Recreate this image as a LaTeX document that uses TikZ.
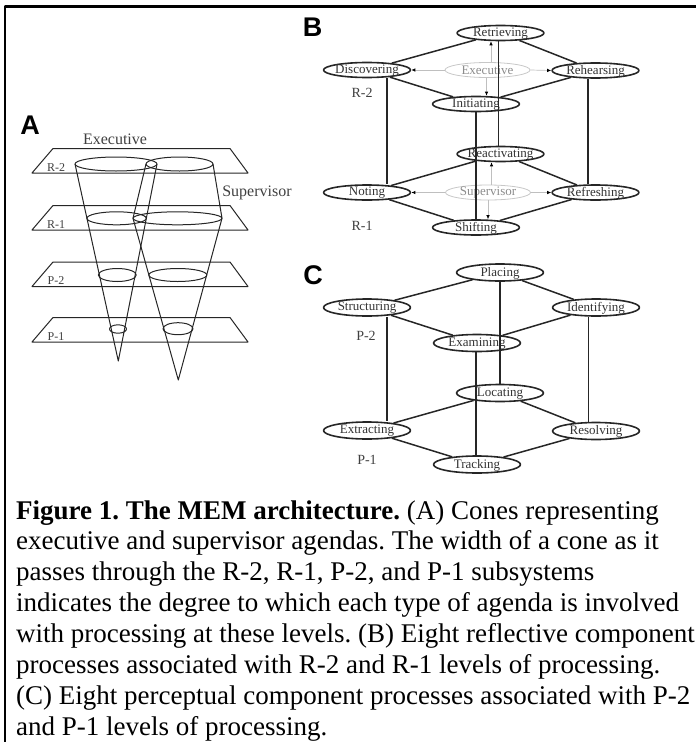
\documentclass[tikz,border=0pt]{standalone}
\usepackage{fontspec}
\setmainfont{Liberation Serif}
\setsansfont{Liberation Sans}
\usetikzlibrary{shapes.geometric}
\usetikzlibrary{arrows.meta}

\begin{document}
\begin{tikzpicture}[x=1pt, y=-1pt, line join=round,
    every node/.style={inner sep=0pt},
    panel/.style={font=\fontsize{27}{27}\selectfont\sffamily\bfseries},
    tier/.style={font=\fontsize{12}{12}\selectfont, text=black!75},
    subtier/.style={font=\fontsize{14}{14}\selectfont, text=black!75},
    agenda/.style={font=\fontsize{16}{16}\selectfont, text=black!75},
    proc/.style={ellipse, draw=black!85, line width=1.6pt, minimum width=87pt, minimum height=15pt,
      label={[font=\fontsize{13}{13}\selectfont, text=black!80, yshift=-0.5pt]center:#1}},
    tall/.style={minimum height=17pt},
    ghost/.style={ellipse, draw=black!22, line width=0.8pt, minimum width=85pt, minimum height=15pt,
      label={[font=\fontsize{13}{13}\selectfont, text=black!45, yshift=-0.5pt]center:#1}},
    link/.style={draw=black!85, line width=1.5pt},
    pass/.style={draw=black!25, line width=0.7pt, -{Latex[length=4pt, width=3.5pt, color=black]}},
    cone/.style={draw=black!85, line width=1pt},
    capline/.style={anchor=base west, font=\fontsize{27}{31}\selectfont\frenchspacing}]
  \useasboundingbox (0,0) rectangle (696,742);
  \draw[line width=2.2pt] (696,6.5) -- (5,6.5) -- (5,742);

  % A
  \node[panel] (A) at (30,125) {A};
  \foreach \name/\t in {R-2/148.5, R-1/205.5, P-2/262, P-1/317.5} {
    \draw[cone] (53,\t) -- (230,\t) -- (248,\t+24.5) -- (32,\t+24.5) -- cycle;
    \node[tier] at (56,\t+19) {\name};
  }
  \foreach \x/\y/\rx/\ry in {116/164/41/7, 116.6/218.3/29.7/6.5, 117.3/275/19/6.5, 118/329/8.5/4.2,
      179.5/164/33.5/7, 177.5/218.3/44.5/6.5, 177.8/275/29/6.5, 178/328.7/15/6}
    \draw[cone] (\x,\y) ellipse [x radius=\rx, y radius=\ry];
  \draw[cone] (75,164) -- (118.3,361) -- (157,164);
  \draw[cone] (146,164) -- (133,218.3) -- (178.3,380) -- (222,218.3) -- (213,164);
  \node[agenda] (exectag) at (115,139) {Executive};
  \node[agenda] (suptag) at (257,193) {Supervisor};

  % B
  \node[panel] (B) at (312.5,27) {B};
  \node[proc=Retrieving] (retr) at (500.5,33) {};
  \node[proc=Discovering] (disc) at (367,70) {};
  \node[ghost=Executive] (exec) at (487.5,70) {};
  \node[proc=Rehearsing] (rehe) at (595.5,70.5) {};
  \node[proc=Initiating] (init) at (476,104) {};
  \node[proc=Reactivating] (react) at (500.5,154) {};
  \node[proc=Noting] (note) at (367,192.5) {};
  \node[ghost=Supervisor] (sup) at (488,192.5) {};
  \node[proc=Refreshing] (refr) at (595.5,192.5) {};
  \node[proc=Shifting] (shif) at (476,227.5) {};
  \node[subtier] (rtwo) at (362,93) {R-2};
  \node[subtier] (rone) at (362,226) {R-1};
  \path[link] (retr) edge (disc) edge (rehe)
    (init) edge (disc) edge (rehe)
    (react) edge (note) edge (refr)
    (shif) edge (note) edge (refr);
  \draw[link] ([xshift=20]disc.south) -- ([xshift=20]note.north);
  \draw[link] ([xshift=-7.5]rehe.south) -- ([xshift=-7.5]refr.north);
  \draw[link] ([xshift=-2]retr.south) -- ([xshift=-2]react.north);
  \draw[link] (init.south) -- (shif.north);
  \draw[pass] ([xshift=3.5]exec.north) -- ([xshift=-9.5]retr.south);
  \draw[pass] (exec.west) -- (disc.east);
  \draw[pass] (exec.east) -- (rehe.west);
  \draw[pass] ([xshift=-1]exec.south) -- ([xshift=10.5]init.north);
  \draw[pass] ([xshift=3.5]sup.north) -- ([xshift=-9]react.south);
  \draw[pass] (sup.west) -- (note.east);
  \draw[pass] (sup.east) -- (refr.west);
  \draw[pass] (sup.south) -- ([xshift=12]shif.north);

  % C
  \node[panel] (C) at (313,275) {C};
  \node[proc=Placing, tall] (plac) at (500,272.5) {};
  \node[proc=Structuring, tall] (stru) at (367,307.5) {};
  \node[proc=Identifying, tall] (iden) at (596,307.5) {};
  \node[proc=Examining, tall] (exam) at (477,343) {};
  \node[proc=Locating, tall] (loca) at (500,393) {};
  \node[proc=Extracting, tall] (extr) at (367,430.5) {};
  \node[proc=Resolving, tall] (reso) at (596,431) {};
  \node[proc=Tracking, tall] (trac) at (477,464.5) {};
  \node[subtier] (ptwo) at (366,336) {P-2};
  \node[subtier] (pone) at (367,460) {P-1};
  \path[link] (plac) edge (stru) edge (iden)
    (exam) edge (stru) edge (iden)
    (loca) edge (extr) edge (reso)
    (trac) edge (extr) edge (reso);
  \draw[link] ([xshift=20]stru.south) -- ([xshift=20]extr.north);
  \draw[link] ([xshift=-7.5]iden.south) -- ([xshift=-7.5]reso.north);
  \draw[link] (plac.south) -- (loca.north);
  \draw[link] ([xshift=-1]exam.south) -- ([xshift=-1]trac.north);

  % caption
  \foreach \line [count=\i] in {{\textbf{Figure 1. The MEM architecture.} (A) Cones representing},
      {executive and supervisor agendas. The width of a cone as it},
      {passes through the R-2, R-1, P-2, and P-1 subsystems},
      {indicates the degree to which each type of agenda is involved},
      {with processing at these levels. (B) Eight reflective component},
      {processes associated with R-2 and R-1 levels of processing.},
      {(C) Eight perceptual component processes associated with P-2},
      {and P-1 levels of processing.}}
    \node[capline] (cap\i) at (16,{519+30.9*(\i-1)}) {\line};
\end{tikzpicture}
\end{document}
